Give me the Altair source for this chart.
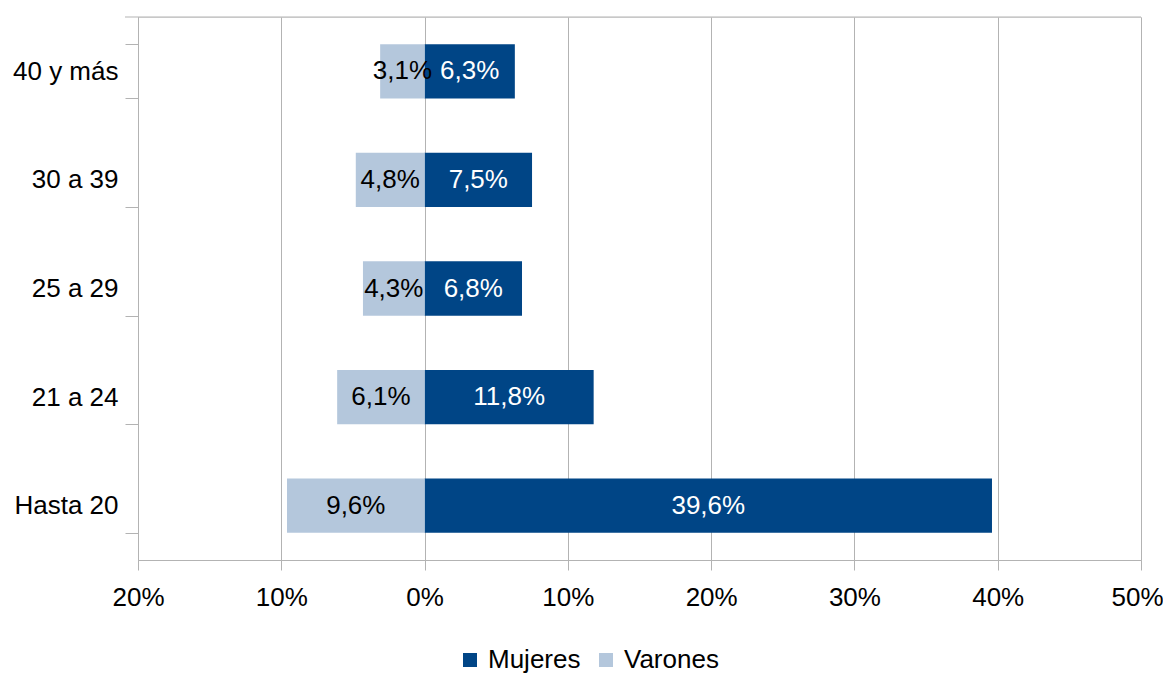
import altair as alt
import pandas as pd

grupos = ["40 y más", "30 a 39", "25 a 29", "21 a 24", "Hasta 20"]
mujeres = [6.3, 7.5, 6.8, 11.8, 39.6]
varones = [3.1, 4.8, 4.3, 6.1, 9.6]
series = ["Mujeres", "Varones"]
colores = ["#004586", "#b4c7dc"]
ticks_x = [-20, -10, 0, 10, 20, 30, 40, 50]

rows = []
for g, m, v in zip(grupos, mujeres, varones):
    rows.append({"grupo": g, "sexo": "Mujeres", "valor": m,
                 "label": f"{m:.1f}%".replace(".", ","), "tc": "white"})
    rows.append({"grupo": g, "sexo": "Varones", "valor": -v,
                 "label": f"{v:.1f}%".replace(".", ","), "tc": "black"})
df = pd.DataFrame(rows)
df["mid"] = df["valor"] / 2

FONT = "Liberation Sans"
FS = 26
W, H = 1003, 543
GRID = "#b3b3b3"

xscale = alt.Scale(domain=[-20, 50], nice=False, zero=False)
yscale = alt.Scale(domain=grupos, paddingInner=0.5, paddingOuter=0.25)

base = alt.Chart(df)

bars = base.mark_bar().encode(
    x=alt.X("valor:Q", scale=xscale,
            axis=alt.Axis(values=ticks_x, title=None, grid=True, gridColor=GRID,
                          domainColor=GRID, tickColor=GRID, tickSize=10,
                          labelExpr="abs(datum.value) + '%'",
                          labelFontSize=FS, labelFont=FONT, labelColor="#000000",
                          labelPadding=14, labelFlush=False,
                          labelOffset=alt.condition("datum.value == 50",
                                                    alt.value(-4), alt.value(0)))),
    y=alt.Y("grupo:N", scale=yscale, sort=grupos,
            axis=alt.Axis(title=None, tickBand="extent", tickSize=13, tickColor=GRID,
                          domainColor=GRID, labelFontSize=FS, labelFont=FONT,
                          labelColor="#000000", labelPadding=7, grid=False)),
    color=alt.Color("sexo:N", scale=alt.Scale(domain=series, range=colores),
                    legend=alt.Legend(title=None, orient="none", direction="horizontal",
                                      legendX=319, legendY=630, symbolType="square",
                                      symbolSize=196, symbolStrokeWidth=0,
                                      labelFontSize=FS, labelFont=FONT,
                                      labelColor="#000000", columnPadding=12,
                                      labelOffset=5)),
)

labels = base.mark_text(font=FONT, fontSize=FS, baseline="middle", align="center").encode(
    x=alt.X("mid:Q", scale=xscale),
    y=alt.Y("grupo:N", scale=yscale, sort=grupos),
    text="label:N",
    color=alt.Color("tc:N", scale=None),
)

top = alt.Chart(pd.DataFrame({"a": [0]})).mark_rule(color=GRID, strokeWidth=1).encode(
    x=alt.value(-13), x2=alt.value(W), y=alt.value(0)
)

chart = alt.layer(top, bars, labels).properties(
    width=W, height=H,
    autosize=alt.AutoSizeParams(type="none"),
    padding={"left": 130, "top": 9, "right": 22, "bottom": 113},
).configure_view(stroke=None).configure(background="white")

chart.save("out.html", embed_options={"renderer": "svg", "actions": False})
